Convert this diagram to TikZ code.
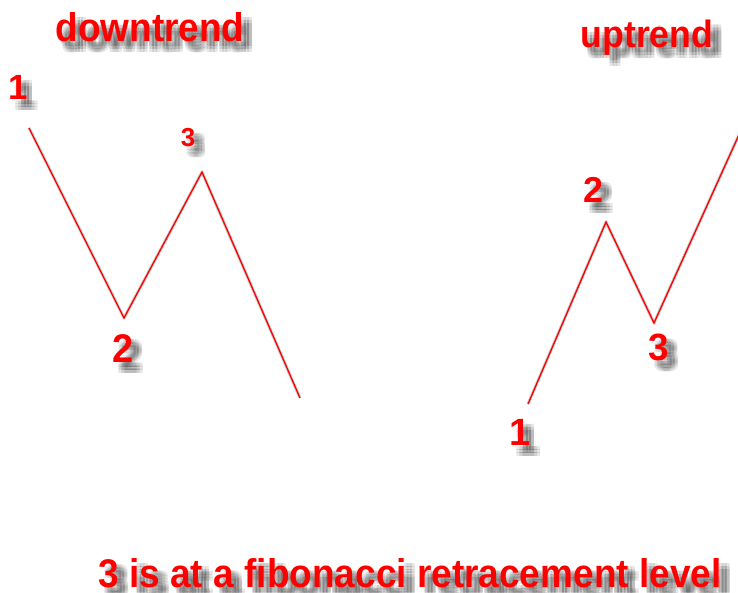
\documentclass[tikz,border=0pt]{standalone}
\usepackage{fontspec}
\setmainfont{Liberation Sans}
\tikzset{
  wave/.style={draw=red, line width=1.3pt, line join=miter},
  waveshade/.style={draw=black, line width=3pt, opacity=0.05, line join=round},
  labeltxt/.style={text=red, inner sep=0pt, anchor=base},
  shadetxt/.style={text=black, opacity=0.095, inner sep=0pt, anchor=base},
}
% red bold label with a soft grey drop shadow
% #1 name, #2 baseline position, #3 font size, #4 horizontal squeeze, #5 text
\newcommand\softlabel[5]{%
  \foreach \dx in {-3,0,3} {\foreach \dy in {-3,0,3} {
    \node[shadetxt, font=\fontsize{#3}{#3}\selectfont\bfseries,
          xshift=8pt+\dx pt, yshift=-8pt-\dy pt] at (#2) {\scalebox{#4}[1]{#5}};
  }}
  \node[labeltxt, font=\fontsize{#3}{#3}\selectfont\bfseries] (#1) at (#2) {\scalebox{#4}[1]{#5}};
}
\begin{document}
\begin{tikzpicture}[x=1pt, y=-1pt]
  \useasboundingbox (0,0) rectangle (738,593);
  \clip (0,0) rectangle (738,593);
  \fill[white] (0,0) rectangle (738,593);

  % wave points
  \coordinate (d1) at (29,128);
  \coordinate (d2) at (124,318);
  \coordinate (d3) at (202,172);
  \coordinate (d4) at (300,398);
  \coordinate (u1) at (528,404);
  \coordinate (u2) at (606,222);
  \coordinate (u3) at (654,323);
  \coordinate (u4) at (742,128);

  % soft shadows of the wave lines
  \foreach \s in {5,7,9,11} {
    \draw[waveshade, xshift=\s pt, yshift=-\s pt] (d1) -- (d2) -- (d3) -- (d4);
    \draw[waveshade, xshift=\s pt, yshift=-\s pt] (u1) -- (u2) -- (u3) -- (u4);
  }
  % the waves
  \draw[wave] (d1) -- (d2) -- (d3) -- (d4);
  \draw[wave] (u1) -- (u2) -- (u3) -- (u4);

  % titles
  \softlabel{down}{150,42}{40}{0.925}{downtrend}
  \softlabel{up}{647,48}{38}{0.94}{uptrend}

  % wave point labels
  \softlabel{dl1}{18,100}{35}{1}{1}
  \softlabel{dl2}{123,362}{40}{0.95}{2}
  \softlabel{dl3}{188,147}{26}{1}{3}
  \softlabel{ul1}{520,445}{38}{1}{1}
  \softlabel{ul2}{594,203}{36}{1}{2}
  \softlabel{ul3}{659,360}{38}{0.97}{3}

  % caption
  \softlabel{note}{410,587}{40}{0.925}{3 is at a fibonacci retracement level}
\end{tikzpicture}
\end{document}
